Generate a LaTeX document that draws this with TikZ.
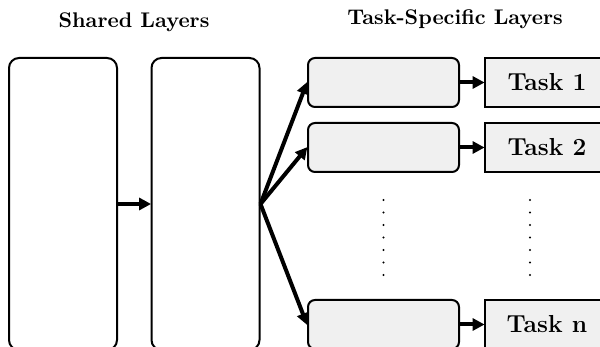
\documentclass[tikz,border=0pt]{standalone}
\usetikzlibrary{arrows.meta}
\definecolor{boxfill}{RGB}{240,240,240}
\begin{document}
\begin{tikzpicture}[x=0.5pt,y=-0.5pt,
  sharedbox/.style={draw, line width=1pt, rounded corners=5pt, minimum width=54pt, minimum height=146pt, inner sep=0pt},
  headbox/.style={draw, line width=1pt, fill=boxfill, rounded corners=3.5pt, minimum width=75.5pt, minimum height=24.5pt, inner sep=0pt},
  taskbox/.style={draw, line width=1pt, fill=boxfill, minimum width=62pt, minimum height=24.5pt, inner sep=0pt, font=\fontsize{12.3}{14}\selectfont\bfseries},
  title/.style={font=\fontsize{10.6}{12}\selectfont\bfseries},
  flow/.style={line width=2pt, -{Triangle[length=6pt,width=6pt]}, shorten >=-0.3pt}
]
\useasboundingbox (0,0) rectangle (600,347);

% column titles
\node[title] (tshared) at (134,22) {Shared Layers};
\node[title] (ttask) at (455,19) {Task-Specific Layers};

% shared layers
\node[sharedbox] (s1) at (63,204) {};
\node[sharedbox] (s2) at (205.5,204) {};

% task-specific heads
\node[headbox] (h1) at (383.5,82.5) {};
\node[headbox] (h2) at (383.5,147.5) {};
\node[headbox] (hn) at (383.5,324.5) {};

% task outputs
\node[taskbox] (o1) at (547,82.5) {Task 1};
\node[taskbox] (o2) at (547,147.5) {Task 2};
\node[taskbox] (on) at (547,324.5) {Task n};

% connectors
\draw[flow] (s1.east) -- (s2.west);
\draw[flow] (s2.east) -- (h1.west);
\draw[flow] (s2.east) -- (h2.west);
\draw[flow] (s2.east) -- (hn.west);
\draw[flow] (h1.east) -- (o1.west);
\draw[flow] (h2.east) -- (o2.west);
\draw[flow] (hn.east) -- (on.west);

% vertical ellipses between the second and last rows
\foreach \k in {0,...,6} {
  \fill (383.5,{200+12.5*\k}) circle (0.55pt);
  \fill (530,{200+12.5*\k}) circle (0.55pt);
}
\end{tikzpicture}
\end{document}
